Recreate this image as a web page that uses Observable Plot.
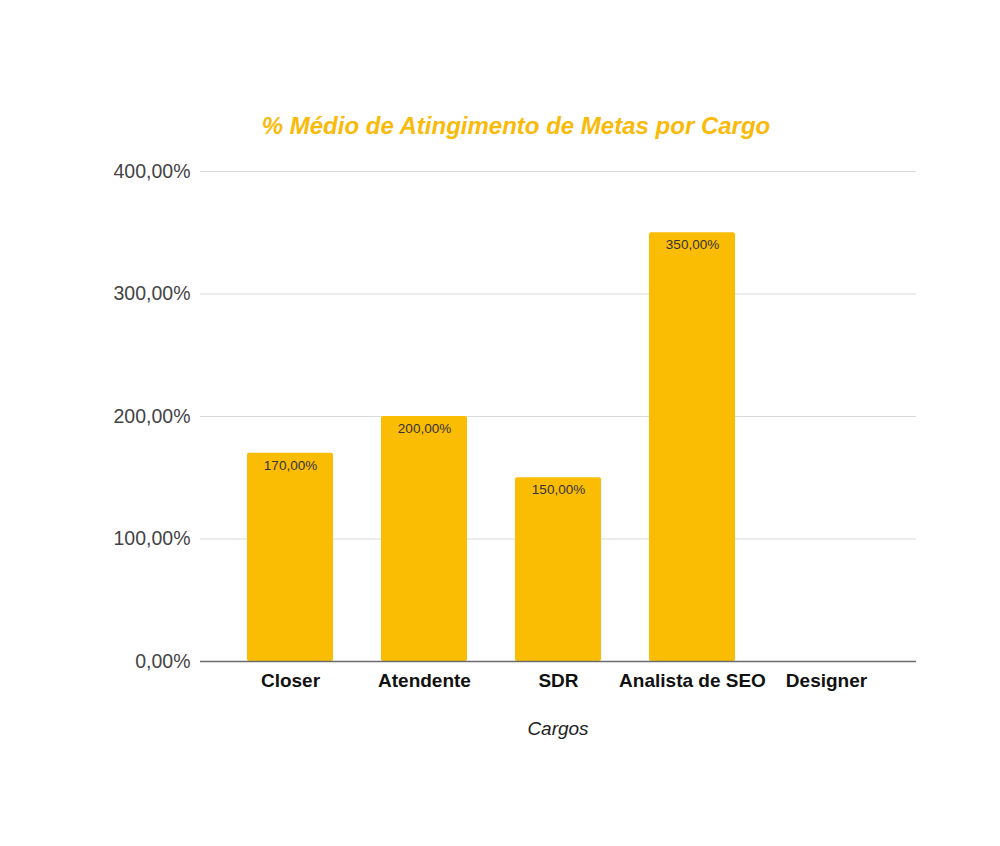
<!DOCTYPE html>
<html>
<head>
<meta charset="utf-8">
<script src="https://cdn.jsdelivr.net/npm/d3@7"></script>
<script src="https://cdn.jsdelivr.net/npm/@observablehq/plot@0.6"></script>
<style>
  html, body { margin: 0; padding: 0; background: #fff; }
  #wrap { position: relative; width: 1000px; height: 846px; font-family: "Liberation Sans", Arial, sans-serif; }
  #title { position: absolute; top: 112px; left: 200px; width: 632px; text-align: center;
           font-size: 24px; font-weight: bold; font-style: italic; color: #F9BA0A; }
  #xlabel { position: absolute; top: 718px; left: 200px; width: 716px; text-align: center;
            font-size: 19px; font-style: italic; color: #222; }
  #chart { position: absolute; top: 0; left: 0; }
</style>
</head>
<body>
<div id="wrap">
  <div id="chart"></div>
  <div id="title">% Médio de Atingimento de Metas por Cargo</div>
  <div id="xlabel">Cargos</div>
</div>
<script>
const cargos = ["Closer", "Atendente", "SDR", "Analista de SEO", "Designer"];
const valores = [170, 200, 150, 350, null];
const yTicks = [0, 100, 200, 300, 400];

const data = cargos.map((c, i) => ({cargo: c, valor: valores[i]}));
const fmt = v => v.toFixed(2).replace(".", ",") + "%";

const chart = Plot.plot({
  width: 1000,
  height: 846,
  marginTop: 171,
  marginBottom: 185,
  marginLeft: 200,
  marginRight: 84,
  style: {fontFamily: "'Liberation Sans', Arial, sans-serif", background: "transparent"},
  x: {domain: cargos, paddingInner: 0.358, paddingOuter: 0.35, label: null},
  y: {domain: [0, 400], ticks: yTicks, label: null},
  marks: [
    Plot.gridY(yTicks, {stroke: "#d9d9d9", strokeOpacity: 1, strokeWidth: 1.2}),
    Plot.barY(data.filter(d => d.valor != null), {x: "cargo", y: "valor", fill: "#FBBC04", rx: 2}),
    Plot.text(data.filter(d => d.valor != null), {x: "cargo", y: "valor", text: d => fmt(d.valor),
      lineAnchor: "top", dy: 7, fontSize: 13.5, fill: "#333"}),
    Plot.ruleY([0], {stroke: "#6b6b6b", strokeWidth: 1.6}),
    Plot.axisY(yTicks, {tickSize: 0, tickPadding: 10, tickFormat: fmt, fontSize: 19.5, color: "#444", label: null}),
    Plot.axisX({tickSize: 0, tickPadding: 12, fontSize: 19, fontWeight: "bold", color: "#111", label: null})
  ]
});
document.getElementById("chart").appendChild(chart);
</script>
</body>
</html>
